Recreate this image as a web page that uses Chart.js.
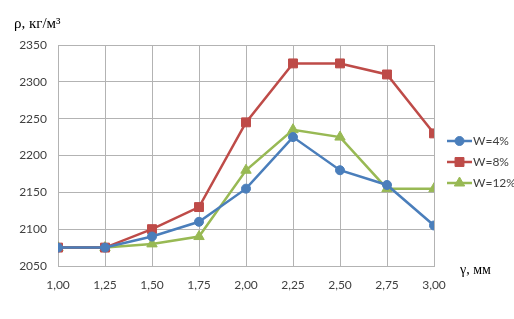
<!DOCTYPE html>
<html>
<head>
<meta charset="utf-8">
<script src="https://cdn.jsdelivr.net/npm/chart.js@4"></script>
<style>
  html, body { margin: 0; padding: 0; background: #fff; }
  #wrap { width: 514px; height: 319px; }
</style>
</head>
<body>
<div id="wrap"><canvas id="myChart" width="514" height="319"></canvas></div>
<script>
const gammaValues = [1.00, 1.25, 1.50, 1.75, 2.00, 2.25, 2.50, 2.75, 3.00];
const seriesNames = ['W=4%', 'W=8%', 'W=12%'];
const w4 = [2075, 2075, 2090, 2110, 2155, 2225, 2180, 2160, 2105];
const w8 = [2075, 2075, 2100, 2130, 2245, 2325, 2325, 2310, 2230];
const w12 = [2075, 2075, 2080, 2090, 2180, 2235, 2225, 2155, 2155];
const yTicks = [2050, 2100, 2150, 2200, 2250, 2300, 2350];

const colors = ['#4a7ebb', '#be4b48', '#98b954'];
const styles = ['circle', 'rect', 'triangle'];
const radii = [4.5, 6.3, 6];

function pts(vals) {
  return vals.map((v, i) => ({ x: gammaValues[i], y: v }));
}

const tickFont = { family: 'Lato', size: 12 };
const gridColor = '#b3b3b3';

// legend and axis titles drawn on canvas
const extras = {
  id: 'extras',
  afterDraw(chart) {
    const c = chart.ctx;
    c.save();
    c.fillStyle = '#000';
    c.textBaseline = 'middle';
    c.textAlign = 'left';
    c.font = '15px "Liberation Serif"';
    c.fillText('ρ, кг/м³', 14, 24);
    c.font = '14px "Liberation Serif"';
    c.fillText('γ, мм', 460, 270);

    const ys = [141, 162, 183];
    chart.data.datasets.forEach((ds, i) => {
      const y = ys[i];
      c.strokeStyle = ds.borderColor;
      c.fillStyle = ds.borderColor;
      c.lineWidth = 2.5;
      c.beginPath();
      c.moveTo(447, y);
      c.lineTo(472, y);
      c.stroke();
      c.lineWidth = 1;
      Chart.helpers.drawPoint(c, {
        pointStyle: ds.pointStyle,
        radius: ds.pointRadius,
        borderWidth: 1
      }, 459.5, y);
      c.fillStyle = '#404040';
      c.font = '12px Lato';
      c.fillText(ds.label, 473, y);
    });
    c.restore();
  }
};

const ctx = document.getElementById('myChart').getContext('2d');

const myChart = new Chart(ctx, {
  type: 'line',
  data: {
    datasets: [w4, w8, w12].map((vals, i) => ({
      label: seriesNames[i],
      data: pts(vals),
      borderColor: colors[i],
      backgroundColor: colors[i],
      pointBackgroundColor: colors[i],
      pointBorderColor: colors[i],
      pointStyle: styles[i],
      pointRadius: radii[i],
      pointBorderWidth: 1,
      borderWidth: 2.5,
      tension: 0
    }))
  },
  options: {
    responsive: false,
    animation: false,
    layout: { padding: { left: 0, right: 80, top: 45, bottom: 0 } },
    plugins: {
      legend: { display: false },
      tooltip: { enabled: false }
    },
    scales: {
      x: {
        type: 'linear',
        min: 1,
        max: 3,
        afterBuildTicks(scale) {
          scale.ticks = gammaValues.map(v => ({ value: v }));
        },
        afterFit(scale) { scale.height = 53; },
        grid: { color: gridColor, drawTicks: false },
        border: { color: gridColor },
        ticks: {
          padding: 12,
          color: '#404040',
          font: tickFont,
          maxRotation: 0,
          callback: v => v.toFixed(2).replace('.', ',')
        }
      },
      y: {
        min: 2050,
        max: 2350,
        afterBuildTicks(scale) {
          scale.ticks = yTicks.map(v => ({ value: v }));
        },
        afterFit(scale) { scale.width = 58; },
        grid: { color: gridColor, drawTicks: false },
        border: { color: gridColor },
        ticks: {
          padding: 11,
          color: '#404040',
          font: tickFont,
          callback: v => String(v)
        }
      }
    }
  },
  plugins: [extras, {
    id: 'topBorder',
    afterDraw(chart) {
      const a = chart.chartArea, c = chart.ctx;
      c.save();
      c.strokeStyle = gridColor;
      c.lineWidth = 1;
      c.beginPath();
      c.moveTo(a.left, a.top + 0.5);
      c.lineTo(a.right, a.top + 0.5);
      c.stroke();
      c.restore();
    }
  }]
});
</script>
</body>
</html>
